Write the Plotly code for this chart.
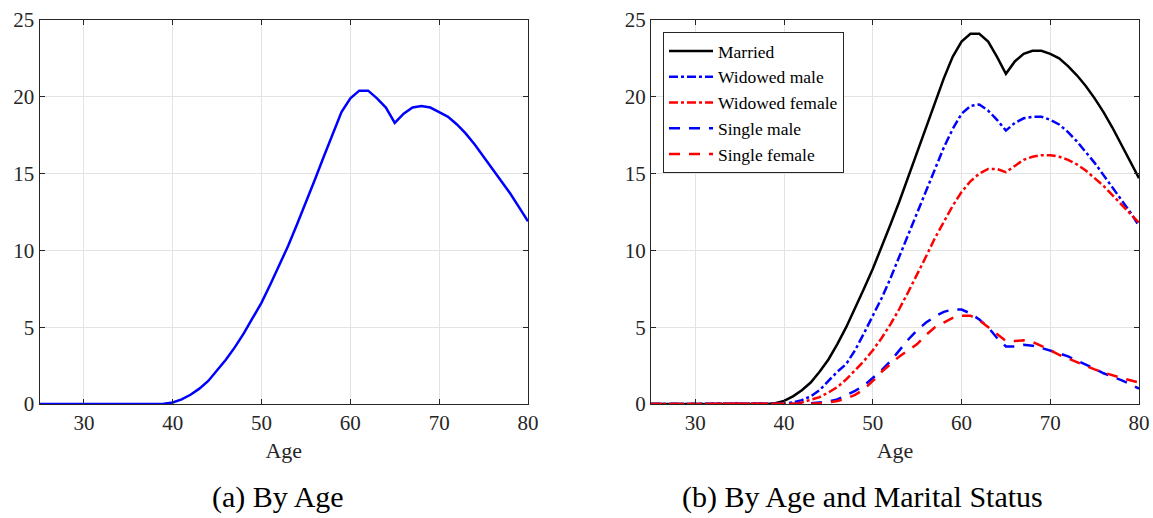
import plotly.graph_objects as go

# leeftijden 25..80
age = list(range(25, 81))

# (a) per leeftijd
by_age = [0]*14 + [
    0.02, 0.1, 0.3, 0.6, 1.0, 1.5, 2.2, 2.9, 3.7, 4.6, 5.6, 6.6, 7.8, 9.0, 10.3, 11.7,
    13.1, 14.6, 16.1, 17.6, 19.0, 19.9, 20.4, 20.4, 19.9, 19.3, 18.3, 18.9, 19.3, 19.4,
    19.3, 19.0, 18.7, 18.2, 17.6, 16.9, 16.1, 15.3, 14.5, 13.7, 12.8, 11.9]

# (b) per leeftijd en burgerlijke staat
married = [0]*14 + [
    0.05, 0.2, 0.5, 0.9, 1.4, 2.1, 2.9, 3.9, 5.0, 6.2, 7.5, 8.8, 10.2, 11.7, 13.2, 14.8,
    16.4, 18.0, 19.6, 21.2, 22.6, 23.6, 24.1, 24.1, 23.6, 22.6, 21.5, 22.3, 22.8, 23.0,
    23.0, 22.8, 22.5, 22.0, 21.4, 20.7, 19.9, 19.0, 18.0, 16.9, 15.8, 14.7]
widowed_male = [0]*15 + [
    0.02, 0.1, 0.25, 0.5, 0.9, 1.5, 2.1, 2.6, 3.5, 4.6, 5.7, 6.9, 8.2, 9.6, 11.0,
    12.4, 13.9, 15.3, 16.7, 17.9, 18.9, 19.4, 19.5, 19.1, 18.5, 17.8, 18.3, 18.6, 18.7,
    18.7, 18.5, 18.2, 17.7, 17.1, 16.4, 15.7, 14.9, 14.1, 13.3, 12.5, 11.6]
widowed_female = [0]*16 + [
    0.02, 0.1, 0.25, 0.45, 0.75, 1.1, 1.6, 2.2, 2.8, 3.5, 4.3, 5.2, 6.2, 7.3,
    8.4, 9.6, 10.8, 11.9, 12.9, 13.8, 14.5, 15.0, 15.3, 15.3, 15.1, 15.5, 15.9, 16.1,
    16.2, 16.2, 16.1, 15.9, 15.6, 15.2, 14.7, 14.2, 13.6, 13.0, 12.4, 11.8]
single_male = [0]*17 + [
    0.02, 0.05, 0.1, 0.15, 0.3, 0.55, 0.85, 1.2, 1.7, 2.2, 2.8, 3.5, 4.2,
    4.8, 5.3, 5.7, 6.0, 6.15, 6.15, 5.9, 5.5, 5.0, 4.3, 3.75, 3.75, 3.85, 3.8,
    3.65, 3.5, 3.3, 3.1, 2.85, 2.55, 2.3, 2.0, 1.8, 1.55, 1.3, 1.0]
single_female = [0]*18 + [
    0.02, 0.05, 0.1, 0.2, 0.35, 0.6, 0.95, 1.5, 2.1, 2.6, 3.1, 3.5,
    3.9, 4.5, 5.0, 5.3, 5.6, 5.75, 5.75, 5.45, 5.0, 4.5, 4.1, 4.1, 4.15, 4.05,
    3.8, 3.5, 3.2, 2.95, 2.7, 2.45, 2.25, 2.05, 1.85, 1.7, 1.55, 1.4]

series_b = [
    ('Married', married, 'black', 'solid'),
    ('Widowed male', widowed_male, 'blue', '9px,3px,3px,3px'),
    ('Widowed female', widowed_female, 'red', '9px,3px,3px,3px'),
    ('Single male', single_male, 'blue', '11px,9px'),
    ('Single female', single_female, 'red', '11px,9px'),
]

W, H = 1153, 518
serif = 'Liberation Serif'


def px_x(p):
    return p / W


def px_y(p):
    return 1 - p / H


fig = go.Figure()

fig.add_trace(go.Scatter(x=age, y=by_age, mode='lines', showlegend=False,
                         line=dict(color='blue', width=2.5), xaxis='x', yaxis='y'))

for naam, vals, kleur, dash in series_b:
    fig.add_trace(go.Scatter(x=age, y=vals, mode='lines', name=naam,
                             line=dict(color=kleur, width=2.5, dash=dash),
                             xaxis='x2', yaxis='y2'))

as_stijl = dict(showline=True, linecolor='#262626', linewidth=1, mirror='ticks',
                ticks='inside', ticklen=5, tickcolor='#262626', automargin=False,
                showgrid=True, gridcolor='#e3e3e3', gridwidth=1, zeroline=False,
                tickfont=dict(family=serif, size=21, color='#262626'))
titel_font = dict(family=serif, size=22, color='#262626')

ydom = [px_y(404), px_y(20)]
fig.update_layout(
    width=W, height=H,
    margin=dict(l=0, r=0, t=0, b=0),
    paper_bgcolor='white', plot_bgcolor='white',
    xaxis=dict(domain=[px_x(39.5), px_x(528)], range=[25, 80], tickvals=[30, 40, 50, 60, 70, 80],
               title=dict(text='Age', font=titel_font, standoff=8), anchor='y', **as_stijl),
    yaxis=dict(domain=ydom, range=[0, 25], tickvals=[0, 5, 10, 15, 20, 25], anchor='x', **as_stijl),
    xaxis2=dict(domain=[px_x(651), px_x(1139)], range=[25, 80], tickvals=[30, 40, 50, 60, 70, 80],
                title=dict(text='Age', font=titel_font, standoff=8), anchor='y2', **as_stijl),
    yaxis2=dict(domain=ydom, range=[0, 25], tickvals=[0, 5, 10, 15, 20, 25], anchor='x2', **as_stijl),
    legend=dict(x=px_x(663), y=px_y(32), xanchor='left', yanchor='top',
                bgcolor='white', bordercolor='#262626', borderwidth=1,
                font=dict(family=serif, size=17.5, color='black'),
                tracegroupgap=0, itemwidth=44),
    annotations=[
        dict(text='(a) By Age', x=px_x(278), y=px_y(497), xref='paper', yref='paper',
             xanchor='center', yanchor='middle',
             showarrow=False, font=dict(family=serif, size=30, color='black')),
        dict(text='(b) By Age and Marital Status', x=px_x(862), y=px_y(497), xref='paper', yref='paper',
             xanchor='center', yanchor='middle',
             showarrow=False, font=dict(family=serif, size=30, color='black')),
    ],
)

fig.write_html('out.html', config={'displayModeBar': False},
               post_script="document.body.style.margin = '0';")
